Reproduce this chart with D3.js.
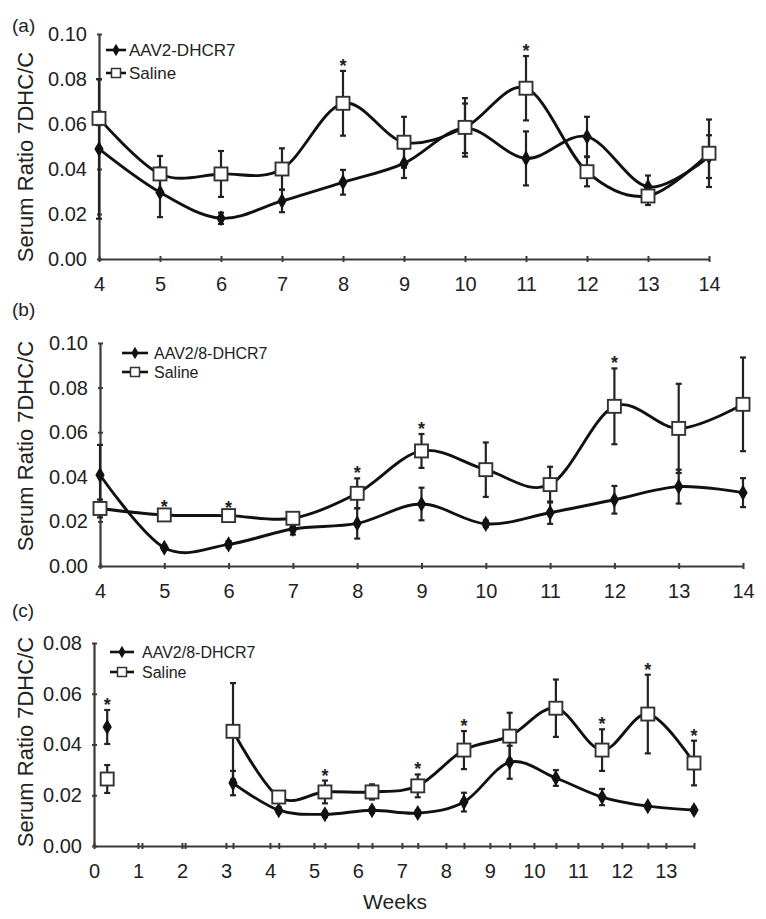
<!DOCTYPE html>
<html><head><meta charset="utf-8">
<script src="https://cdn.jsdelivr.net/npm/d3@7"></script>
<style>
body{margin:0;background:#fff;}
text{font-family:"Liberation Sans",Arial,sans-serif;fill:#222;}
</style></head>
<body><svg id="chart" width="766" height="919"></svg>
<script>
// ---------- DATA ----------
const weeksAB = [4,5,6,7,8,9,10,11,12,13,14];
const yTicksAB = [0,0.02,0.04,0.06,0.08,0.10];

// Panel (a)
const aAAV     = [0.0489,0.0296,0.0181,0.0258,0.0341,0.0425,0.0581,0.0447,0.0544,0.0321,0.0455];
const aAAVErr  = [0.031,0.011,0.0025,0.005,0.0055,0.0065,0.011,0.012,0.0088,0.005,0.0095];
const aSal     = [0.0625,0.0378,0.0378,0.0400,0.0692,0.0519,0.0585,0.0759,0.0388,0.0280,0.0470];
const aSalErr  = [0.003,0.008,0.0102,0.0092,0.0144,0.0113,0.013,0.0143,0.0065,0.004,0.015];
const aStars   = [8,11];

// Panel (b)
const bAAV     = [0.0408,0.0082,0.0097,0.0166,0.0191,0.0278,0.0189,0.0239,0.0297,0.0356,0.0329];
const bAAVErr  = [0.0135,0.001,0.0015,0.0025,0.0068,0.0073,0.0015,0.005,0.0062,0.0076,0.0065];
const bSal     = [0.0258,0.0229,0.0226,0.0214,0.0326,0.0516,0.0432,0.0365,0.0716,0.0617,0.0725];
const bSalErr  = [0.004,0.0012,0.0012,0.0015,0.0067,0.0076,0.0122,0.008,0.017,0.020,0.021];
const bStars   = [5,6,8,9,12];

// Panel (c)
const weeksC   = [0.3,3.16,4.2,5.25,6.32,7.36,8.41,9.45,10.5,11.55,12.59,13.64];
const cAAV     = [0.0469,0.0248,0.0141,0.0125,0.0141,0.0130,0.0173,0.0330,0.0268,0.0193,0.0157,0.0142];
const cAAVErr  = [0.0067,0.0048,0.0012,0.001,0.001,0.001,0.0037,0.0065,0.0031,0.0032,0.001,0.001];
const cSal     = [0.0264,0.0452,0.0193,0.0213,0.0213,0.0237,0.0378,0.0433,0.0543,0.0378,0.0520,0.0327];
const cSalErr  = [0.0055,0.019,0.0015,0.0045,0.003,0.0045,0.0075,0.0092,0.0113,0.0082,0.0155,0.0088];
const cStars   = [0.3,5.25,7.36,8.41,11.55,12.59,13.64];
const xLabelsC = [0,1,2,3,4,5,6,7,8,9,10,11,12,13];
const xMinorC  = [1.09,2.07];
const yTicksC  = [0,0.02,0.04,0.06,0.08];

const yTitle = "Serum Ratio 7DHC/C";
// ---------- DRAW ----------
const svg = d3.select("#chart");
const fmt = d3.format(".2f");
const curve = d3.curveCardinal.tension(0);

function panel(o){
  const g = svg.append("g");
  const x = d3.scaleLinear().domain(o.xDomain).range(o.xRange);
  const y = d3.scaleLinear().domain(o.yDomain).range(o.yRange);
  const y0 = o.yRange[0];

  // axes
  const ya = d3.axisLeft(y).tickValues(o.yTicks).tickFormat(fmt).tickSizeInner(3).tickSizeOuter(0).tickPadding(9);
  const yg = g.append("g").attr("transform",`translate(${o.xRange[0]},0)`).call(ya);
  const xa = d3.axisBottom(x).tickValues(o.xTicks).tickFormat(d3.format("d")).tickSizeInner(3).tickSizeOuter(0).tickPadding(15);
  const xg = g.append("g").attr("transform",`translate(0,${y0})`).call(xa);
  [yg,xg].forEach(a=>{
    a.select(".domain").attr("stroke","#3a3a3a").attr("stroke-width",2.2);
    a.selectAll(".tick line").attr("stroke","#3a3a3a").attr("stroke-width",2);
    a.selectAll(".tick text").style("font-size", "20px").attr("fill","#222");
  });
  yg.selectAll(".tick line").attr("x1",3).attr("x2",-2);
  xg.selectAll(".tick line").attr("y1",-3).attr("y2",3);
  if(o.xMinor){
    const ma = d3.axisBottom(x).tickValues(o.xMinor).tickFormat("").tickSizeInner(3).tickSizeOuter(0);
    const mg = g.append("g").attr("transform",`translate(0,${y0})`).call(ma);
    mg.select(".domain").remove();
    mg.selectAll(".tick line").attr("stroke","#3a3a3a").attr("stroke-width",2).attr("y1",-3).attr("y2",3);
  }

  // titles
  g.append("text").attr("x",o.panelLabel[1]).attr("y",o.panelLabel[2]).style("font-size","19px").text(o.panelLabel[0]);
  g.append("text").attr("transform",`translate(${o.yTitlePos[0]},${o.yTitlePos[1]}) rotate(-90)`)
    .attr("text-anchor","middle").attr("dominant-baseline","central").style("font-size","22px").text(yTitle);

  const series = [
    {vals:o.aav, err:o.aavErr, type:"d"},
    {vals:o.sal, err:o.salErr, type:"s"}
  ];
  // lines
  series.forEach(s=>{
    const pts = o.weeks.map((w,i)=>[w,s.vals[i]]).slice(o.lineStart||0);
    g.append("path").attr("d", d3.line().x(d=>x(d[0])).y(d=>y(d[1])).curve(curve)(pts))
      .attr("fill","none").attr("stroke","#111").attr("stroke-width",2.9);
  });
  // error bars
  series.forEach(s=>{
    o.weeks.forEach((w,i)=>{
      const cx=x(w), t=y(s.vals[i]+s.err[i]), b=y(s.vals[i]-s.err[i]);
      g.append("line").attr("x1",cx).attr("x2",cx).attr("y1",t).attr("y2",b).attr("stroke","#222").attr("stroke-width",2.2);
      [t,b].forEach(yy=>g.append("line").attr("x1",cx-3).attr("x2",cx+3).attr("y1",yy).attr("y2",yy).attr("stroke","#222").attr("stroke-width",2.2));
    });
  });
  // markers
  const diamond = d3.symbol().type(d3.symbolDiamond).size(75);
  series.forEach(s=>{
    o.weeks.forEach((w,i)=>{
      if(s.type==="d"){
        g.append("path").attr("d",diamond()).attr("transform",`translate(${x(w)},${y(s.vals[i])})`).attr("fill","#111");
      } else {
        g.append("rect").attr("x",x(w)-6.5).attr("y",y(s.vals[i])-6.5).attr("width",13).attr("height",13)
          .attr("fill","#fff").attr("stroke","#333").attr("stroke-width",1.9);
      }
    });
  });
  // stars
  o.stars.forEach(w=>{
    const i = o.weeks.indexOf(w);
    const top = Math.min(y(o.aav[i]+o.aavErr[i]), y(o.sal[i]+o.salErr[i]));
    g.append("text").attr("x",x(w)).attr("y",top+1).attr("text-anchor","middle").style("font-size","18px").style("font-weight","bold").text("*");
  });
  // legend
  const L = o.legend;
  const lg = g.append("g");
  [[o.legendNames[0],"d"],["Saline","s"]].forEach((d,k)=>{
    const ly = L.y + k*L.dy;
    lg.append("line").attr("x1",L.x1).attr("x2",L.x2).attr("y1",ly).attr("y2",ly).attr("stroke","#111").attr("stroke-width",2.6);
    const mx=(L.x1+L.x2)/2;
    if(d[1]==="d") lg.append("path").attr("d",d3.symbol().type(d3.symbolDiamond).size(45)()).attr("transform",`translate(${mx},${ly})`).attr("fill","#111");
    else lg.append("rect").attr("x",mx-4.5).attr("y",ly-4.5).attr("width",9).attr("height",9).attr("fill","#fff").attr("stroke","#333").attr("stroke-width",1.5);
    lg.append("text").attr("x",L.tx).attr("y",ly).attr("dominant-baseline","central").style("font-size",L.fs+"px").text(d[0]);
  });
}

panel({
  weeks:weeksAB, aav:aAAV, aavErr:aAAVErr, sal:aSal, salErr:aSalErr, stars:aStars,
  xDomain:[4,14], xRange:[99,709], yDomain:[0,0.10], yRange:[259,34],
  xTicks:weeksAB, yTicks:yTicksAB, panelLabel:["(a)",12,32], yTitlePos:[25,157],
  legendNames:["AAV2-DHCR7"], legend:{x1:106,x2:126,y:50,dy:23,tx:129,fs:17}
});
panel({
  weeks:weeksAB, aav:bAAV, aavErr:bAAVErr, sal:bSal, salErr:bSalErr, stars:bStars,
  xDomain:[4,14], xRange:[100,743], yDomain:[0,0.10], yRange:[566,343],
  xTicks:weeksAB, yTicks:yTicksAB, panelLabel:["(b)",12,316], yTitlePos:[25,446],
  legendNames:["AAV2/8-DHCR7"], legend:{x1:122,x2:148,y:353,dy:19,tx:154,fs:16}
});
panel({
  weeks:weeksC, aav:cAAV, aavErr:cAAVErr, sal:cSal, salErr:cSalErr, stars:cStars, lineStart:1,
  xDomain:[0,13.64], xRange:[94,694], yDomain:[0,0.08], yRange:[846,643],
  xTicks:xLabelsC, xMinor:xMinorC.concat(weeksC.slice(1)), yTicks:yTicksC, panelLabel:["(c)",12,617], yTitlePos:[25,742],
  legendNames:["AAV2/8-DHCR7"], legend:{x1:110,x2:134,y:652,dy:20,tx:142,fs:16}
});
svg.append("text").attr("x",395).attr("y",909).attr("text-anchor","middle").style("font-size","21px").text("Weeks");
</script></body></html>
